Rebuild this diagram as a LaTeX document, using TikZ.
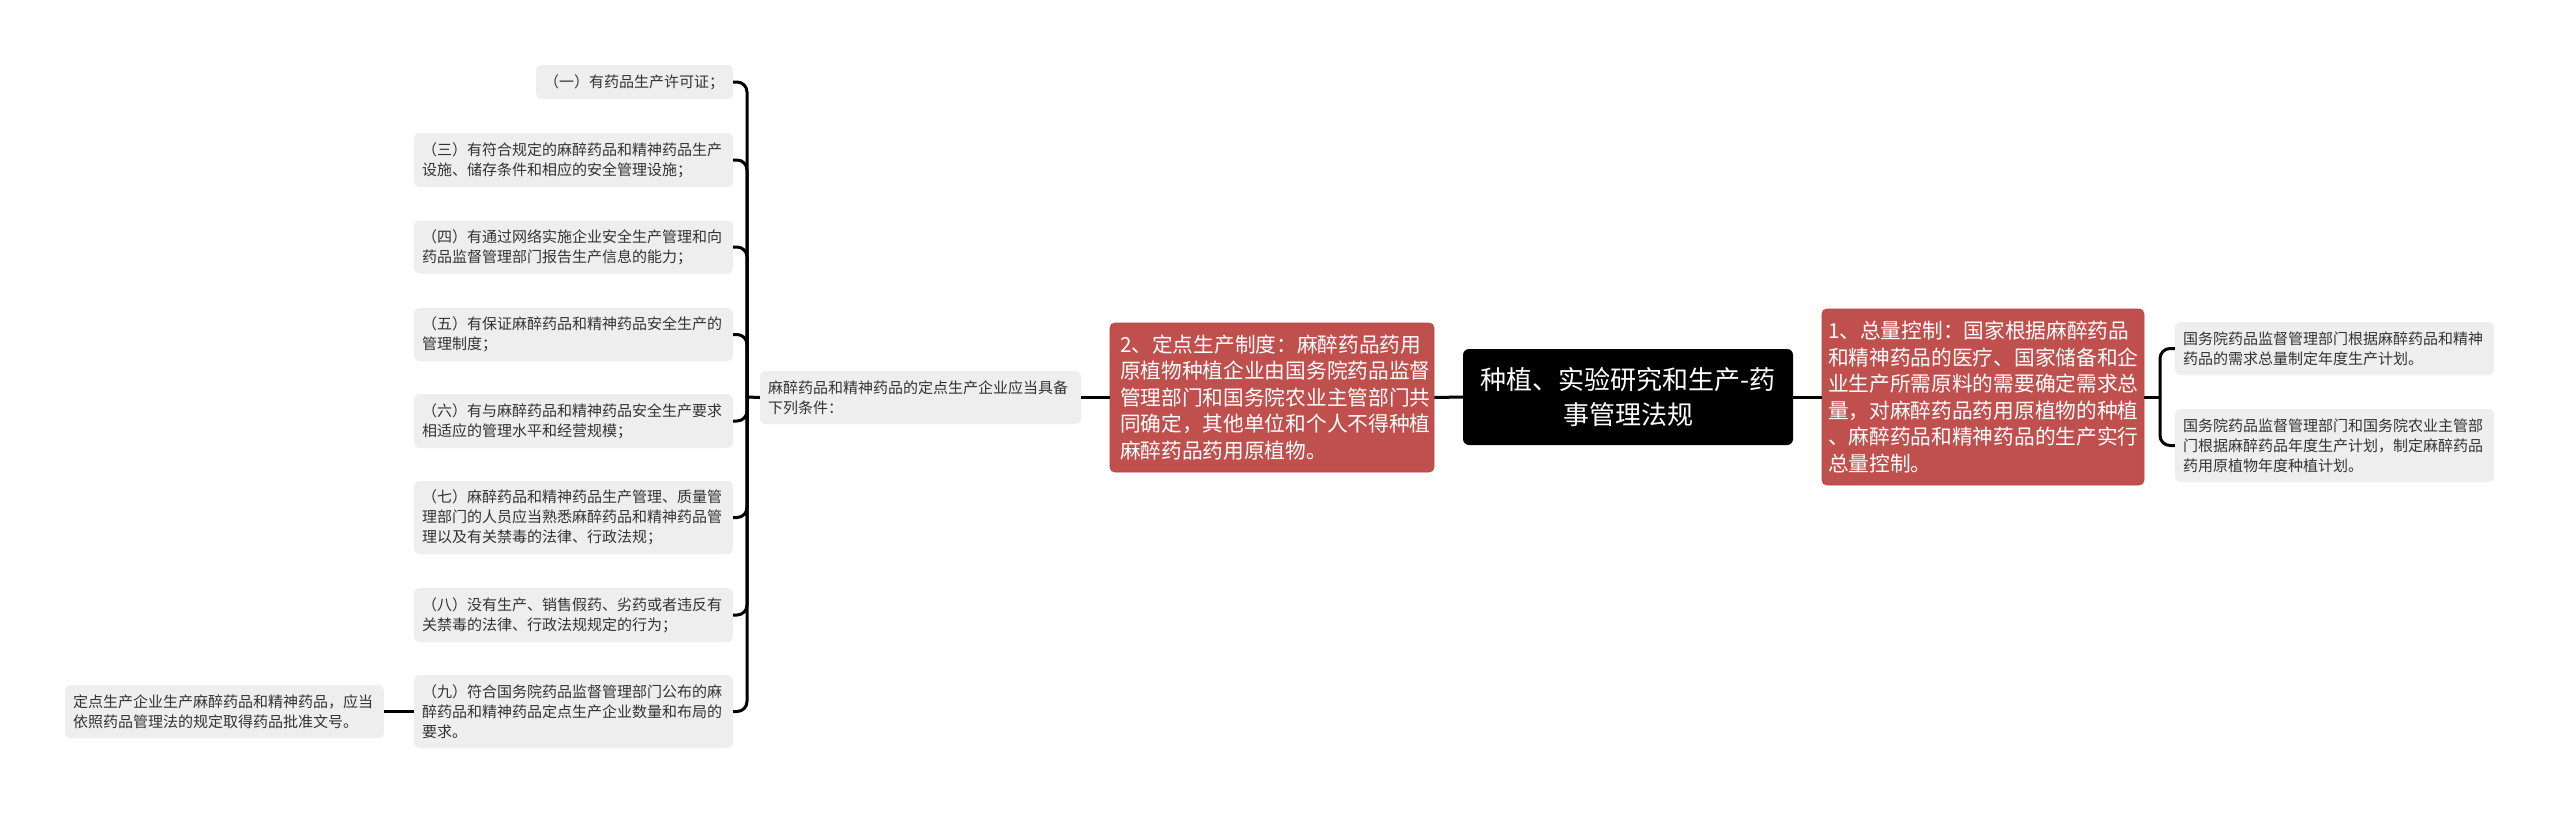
\documentclass[tikz,border=0pt]{standalone}
\usepackage{fontspec}
\setmainfont{Noto Sans CJK SC}
\definecolor{leafgrey}{HTML}{EEEEEE}
\definecolor{textgrey}{HTML}{333333}
\definecolor{redfill}{HTML}{C0504D}
\definecolor{redline}{HTML}{B24542}
\tikzset{
  conn/.style={line width=3pt, draw=black, rounded corners=10pt},
  leaf/.style={fill=leafgrey, rounded corners=6pt, text=textgrey,
    font=\fontsize{15}{20}\selectfont, align=left, inner xsep=8pt, inner ysep=0pt,
    text width=303pt},
  redbox/.style={fill=redfill, draw=redline, line width=0.8pt, rounded corners=5pt, text=white,
    font=\fontsize{20.7}{26.5}\selectfont, align=left, inner ysep=0pt},
  rootbox/.style={fill=black, rounded corners=6pt, text=white,
    font=\fontsize{26}{35}\selectfont, align=center, inner xsep=10pt, inner ysep=0pt,
    text width=310pt, minimum height=96pt},
}
\begin{document}
\begin{tikzpicture}[x=1pt,y=-1pt]
\useasboundingbox (0,0) rectangle (2560,814);
\fill[white] (0,0) rectangle (2560,814);

% root
\node[rootbox] (root) at (1628,397) {种植、实验研究和生产-药\\事管理法规};

% red boxes
\node[redbox, inner xsep=6pt, text width=310pt, minimum height=176pt] (r1) at (1983,397)
 {1、总量控制：国家根据麻醉药品\\和精神药品的医疗、国家储备和企\\业生产所需原料的需要确定需求总\\量，对麻醉药品药用原植物的种植\\、麻醉药品和精神药品的生产实行\\总量控制。};
\node[redbox, inner xsep=10pt, text width=304pt, minimum height=149pt] (r2) at (1272,397.5)
 {2、定点生产制度：麻醉药品药用\\原植物种植企业由国务院药品监督\\管理部门和国务院农业主管部门共\\同确定，其他单位和个人不得种植\\麻醉药品药用原植物。};

% right leaves
\node[leaf, minimum height=53pt] (a1) at (2334.5,348.5)
 {国务院药品监督管理部门根据麻醉药品和精神\\药品的需求总量制定年度生产计划。};
\node[leaf, minimum height=73pt] (a2) at (2334.5,445.5)
 {国务院药品监督管理部门和国务院农业主管部\\门根据麻醉药品年度生产计划，制定麻醉药品\\药用原植物年度种植计划。};

% middle grey
\node[leaf, text width=305pt, minimum height=53pt] (g) at (920.5,397.5)
 {麻醉药品和精神药品的定点生产企业应当具备\\下列条件：};

% left items
\node[leaf, text width=181pt, minimum height=34pt] (i1) at (634.5,82)
 {（一）有药品生产许可证；};
\node[leaf, minimum height=54pt] (i3) at (573.5,160)
 {（三）有符合规定的麻醉药品和精神药品生产\\设施、储存条件和相应的安全管理设施；};
\node[leaf, minimum height=53pt] (i4) at (573.5,247)
 {（四）有通过网络实施企业安全生产管理和向\\药品监督管理部门报告生产信息的能力；};
\node[leaf, minimum height=53pt] (i5) at (573.5,334.5)
 {（五）有保证麻醉药品和精神药品安全生产的\\管理制度；};
\node[leaf, minimum height=54pt] (i6) at (573.5,421)
 {（六）有与麻醉药品和精神药品安全生产要求\\相适应的管理水平和经营规模；};
\node[leaf, minimum height=73pt] (i7) at (573.5,517.5)
 {（七）麻醉药品和精神药品生产管理、质量管\\理部门的人员应当熟悉麻醉药品和精神药品管\\理以及有关禁毒的法律、行政法规；};
\node[leaf, minimum height=54pt] (i8) at (573.5,615)
 {（八）没有生产、销售假药、劣药或者违反有\\关禁毒的法律、行政法规规定的行为；};
\node[leaf, minimum height=73pt] (i9) at (573.5,711.5)
 {（九）符合国务院药品监督管理部门公布的麻\\醉药品和精神药品定点生产企业数量和布局的\\要求。};
\node[leaf, minimum height=53pt] (f) at (224.5,711.5)
 {定点生产企业生产麻醉药品和精神药品，应当\\依照药品管理法的规定取得药品批准文号。};

% junctions
\coordinate (jl) at (747,397);
\coordinate (jr) at (2160,397);

% connectors
\draw[conn] (root.east) -- (r1.west);
\draw[conn] (root.west) -- (r2.east);
\draw[conn] (r2.west) -- (g.east);
\draw[conn] (g.west) -- (jl);
\foreach \n in {i1,i3,i4,i5,i6,i7,i8,i9}{
  \draw[conn] (jl) |- (\n.east);
}
\draw[conn] (i9.west) -- (f.east);
\draw[conn] (r1.east) -- (jr);
\draw[conn] (jr) |- (a1.west);
\draw[conn] (jr) |- (a2.west);
\end{tikzpicture}
\end{document}
